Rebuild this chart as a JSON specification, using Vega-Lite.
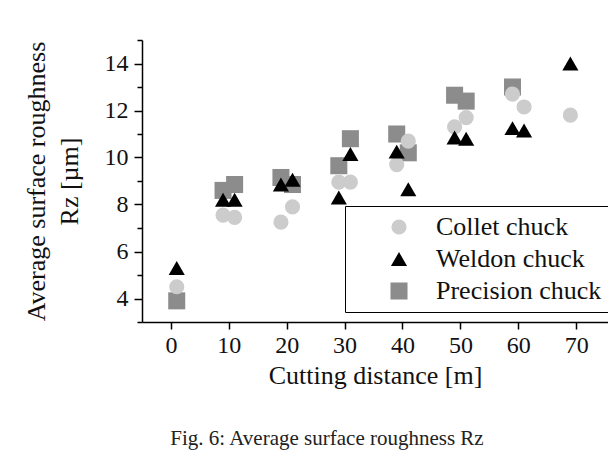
{
  "$schema": "https://vega.github.io/schema/vega-lite/v6.json",
  "width": 466,
  "height": 282,
  "autosize": {"type": "none"},
  "padding": {"left": 142, "top": 40, "right": 0, "bottom": 142},
  "background": "white",
  "title": {
    "text": "Fig. 6: Average surface roughness Rz",
    "orient": "bottom",
    "anchor": "middle",
    "dx": -48,
    "offset": 40,
    "font": "Liberation Serif",
    "fontSize": 21,
    "fontWeight": "normal",
    "color": "#222222"
  },
  "config": {
    "font": "Liberation Serif",
    "view": {"stroke": null},
    "axis": {
      "grid": false,
      "domainColor": "#000000",
      "domainWidth": 1.5,
      "tickColor": "#000000",
      "tickWidth": 1.5,
      "labelFont": "Liberation Serif",
      "labelFontSize": 24,
      "labelColor": "#111111",
      "titleFont": "Liberation Serif",
      "titleFontSize": 26,
      "titleFontWeight": "normal",
      "titleColor": "#111111"
    },
    "legend": {"labelFont": "Liberation Serif"}
  },
  "data": {
    "values": [
      {"distance": 1, "rz": 3.9, "chuck": "Precision chuck"},
      {"distance": 9, "rz": 8.6, "chuck": "Precision chuck"},
      {"distance": 11, "rz": 8.85, "chuck": "Precision chuck"},
      {"distance": 19, "rz": 9.15, "chuck": "Precision chuck"},
      {"distance": 21, "rz": 8.85, "chuck": "Precision chuck"},
      {"distance": 29, "rz": 9.65, "chuck": "Precision chuck"},
      {"distance": 31, "rz": 10.8, "chuck": "Precision chuck"},
      {"distance": 39, "rz": 11.0, "chuck": "Precision chuck"},
      {"distance": 41, "rz": 10.2, "chuck": "Precision chuck"},
      {"distance": 49, "rz": 12.65, "chuck": "Precision chuck"},
      {"distance": 51, "rz": 12.4, "chuck": "Precision chuck"},
      {"distance": 59, "rz": 13.0, "chuck": "Precision chuck"},
      {"distance": 1, "rz": 4.5, "chuck": "Collet chuck"},
      {"distance": 9, "rz": 7.55, "chuck": "Collet chuck"},
      {"distance": 11, "rz": 7.45, "chuck": "Collet chuck"},
      {"distance": 19, "rz": 7.25, "chuck": "Collet chuck"},
      {"distance": 21, "rz": 7.9, "chuck": "Collet chuck"},
      {"distance": 29, "rz": 8.95, "chuck": "Collet chuck"},
      {"distance": 31, "rz": 8.95, "chuck": "Collet chuck"},
      {"distance": 39, "rz": 9.7, "chuck": "Collet chuck"},
      {"distance": 41, "rz": 10.7, "chuck": "Collet chuck"},
      {"distance": 49, "rz": 11.3, "chuck": "Collet chuck"},
      {"distance": 51, "rz": 11.7, "chuck": "Collet chuck"},
      {"distance": 59, "rz": 12.7, "chuck": "Collet chuck"},
      {"distance": 61, "rz": 12.15, "chuck": "Collet chuck"},
      {"distance": 69, "rz": 11.8, "chuck": "Collet chuck"},
      {"distance": 1, "rz": 5.3, "chuck": "Weldon chuck"},
      {"distance": 9, "rz": 8.2, "chuck": "Weldon chuck"},
      {"distance": 11, "rz": 8.2, "chuck": "Weldon chuck"},
      {"distance": 19, "rz": 8.85, "chuck": "Weldon chuck"},
      {"distance": 21, "rz": 9.05, "chuck": "Weldon chuck"},
      {"distance": 29, "rz": 8.3, "chuck": "Weldon chuck"},
      {"distance": 31, "rz": 10.15, "chuck": "Weldon chuck"},
      {"distance": 39, "rz": 10.25, "chuck": "Weldon chuck"},
      {"distance": 41, "rz": 8.65, "chuck": "Weldon chuck"},
      {"distance": 49, "rz": 10.85, "chuck": "Weldon chuck"},
      {"distance": 51, "rz": 10.8, "chuck": "Weldon chuck"},
      {"distance": 59, "rz": 11.25, "chuck": "Weldon chuck"},
      {"distance": 61, "rz": 11.15, "chuck": "Weldon chuck"},
      {"distance": 69, "rz": 14.0, "chuck": "Weldon chuck"}
    ]
  },
  "mark": {"type": "point", "filled": true, "opacity": 1, "strokeWidth": 0},
  "encoding": {
    "x": {
      "field": "distance",
      "type": "quantitative",
      "scale": {"domain": [-5, 75.5], "nice": false, "zero": false},
      "axis": {
        "values": [0, 10, 20, 30, 40, 50, 60, 70],
        "title": "Cutting distance [m]",
        "labelFont": "Liberation Serif",
        "titleFont": "Liberation Serif",
        "tickSize": 7,
        "labelPadding": 4,
        "titlePadding": 5
      }
    },
    "y": {
      "field": "rz",
      "type": "quantitative",
      "scale": {"domain": [3, 15], "nice": false, "zero": false},
      "axis": {
        "values": [3, 4, 5, 6, 7, 8, 9, 10, 11, 12, 13, 14, 15],
        "labelExpr": "datum.value % 2 == 0 ? datum.label : ''",
        "labelFont": "Liberation Serif",
        "titleFont": "Liberation Serif",
        "tickSize": {"condition": {"test": "datum.value % 2 == 0", "value": 8}, "value": 5},
        "labelPadding": 6,
        "title": ["Average surface roughness", "Rz [µm]"],
        "titleLineHeight": 33,
        "titlePadding": 22
      }
    },
    "shape": {
      "field": "chuck",
      "type": "nominal",
      "scale": {"domain": ["Collet chuck", "Weldon chuck", "Precision chuck"], "range": ["circle", "triangle-up", "square"]},
      "legend": {
        "title": null,
        "orient": "none",
        "legendX": 203,
        "legendY": 166,
        "strokeColor": "#000000",
        "fillColor": "#ffffff",
        "padding": 8,
        "rowPadding": 6,
        "symbolOffset": 33,
        "labelOffset": 24,
        "labelLimit": 400,
        "labelFont": "Liberation Serif",
        "labelFontSize": 26,
        "labelColor": "#111111",
        "symbolStrokeWidth": 0
      }
    },
    "color": {
      "field": "chuck",
      "type": "nominal",
      "scale": {"domain": ["Collet chuck", "Weldon chuck", "Precision chuck"], "range": ["#cccccc", "#000000", "#8c8c8c"]}
    },
    "size": {
      "field": "chuck",
      "type": "nominal",
      "scale": {"domain": ["Collet chuck", "Weldon chuck", "Precision chuck"], "range": [230, 290, 200]}
    }
  }
}
